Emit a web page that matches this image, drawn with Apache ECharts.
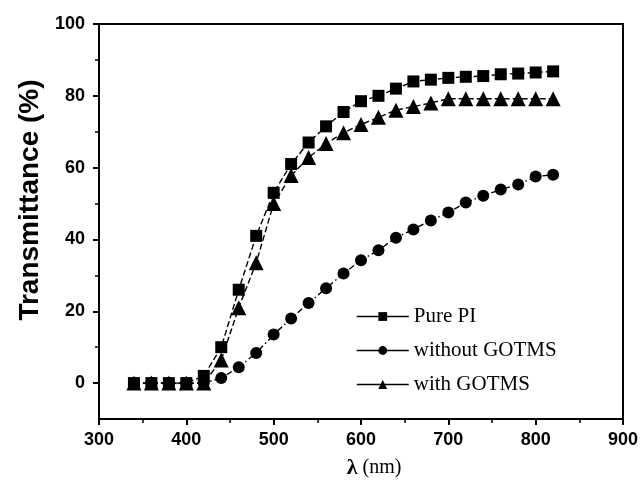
<!DOCTYPE html>
<html>
<head>
<meta charset="utf-8">
<script src="https://cdn.jsdelivr.net/npm/echarts@6/dist/echarts.min.js"></script>
<style>
  html, body { margin: 0; padding: 0; background: #fff; }
  #chart { width: 642px; height: 487px; }
</style>
</head>
<body>
<div id="chart"></div>
<script>
// wavelength (nm)
const wavelengths = [340, 360, 380, 400, 420, 440, 460, 480, 500, 520, 540, 560, 580,
  600, 620, 640, 660, 680, 700, 720, 740, 760, 780, 800, 820]

// transmittance (%)
const purePI = [0, 0, 0, 0, 2, 10, 26, 41, 53, 61, 67, 71.5, 75.5,
  78.5, 80, 82, 84, 84.5, 85, 85.3, 85.5, 86, 86.2, 86.5, 86.8]
const withoutGOTMS = [0, 0, 0, 0, 0, 1.4, 4.4, 8.4, 13.5, 18, 22.3, 26.4, 30.5,
  34.2, 37, 40.5, 42.8, 45.3, 47.5, 50.3, 52.2, 53.9, 55.3, 57.5, 58]
const withGOTMS = [0, 0, 0, 0, 0, 6.4, 21, 33.5, 50, 57.8, 62.8, 66.7, 69.7,
  72, 74, 76, 77, 78, 79.2, 79.2, 79.2, 79.2, 79.2, 79.2, 79.2]

const yMajor = [0, 20, 40, 60, 80, 100]
const yMinor = [10, 30, 50, 70, 90]

const pairs = ys => wavelengths.map((x, i) => [x, ys[i]])

const chart = echarts.init(document.getElementById('chart'))

const tickFont = { color: '#000', fontFamily: 'Liberation Sans', fontWeight: 'bold', fontSize: 18 }

const option = {
  animation: false,
  backgroundColor: '#fff',
  grid: { left: 99, right: 19, top: 24, bottom: 68, show: true, borderColor: '#000', borderWidth: 2 },
  legend: {
    orient: 'vertical',
    left: 356,
    top: 306,
    padding: 0,
    itemWidth: 52,
    itemHeight: 11,
    itemGap: 13,
    lineStyle: { type: 'solid', width: 1.5 },
    textStyle: { color: '#000', fontFamily: 'Liberation Serif', fontSize: 21 },
    data: ['Pure PI', 'without GOTMS', 'with GOTMS']
  },
  xAxis: {
    type: 'value',
    min: 300,
    max: 900,
    interval: 100,
    axisLine: { onZero: false, lineStyle: { color: '#000', width: 2 } },
    axisTick: { inside: false, length: 6, lineStyle: { color: '#000', width: 2 } },
    minorTick: { show: true, splitNumber: 2, length: 4, lineStyle: { color: '#000', width: 1.5 } },
    splitLine: { show: false },
    axisLabel: Object.assign({ margin: 12 }, tickFont)
  },
  yAxis: [
    {
      type: 'value',
      min: -10,
      max: 100,
      axisLine: { onZero: false, lineStyle: { color: '#000', width: 2 } },
      axisTick: { length: 6, customValues: yMajor, lineStyle: { color: '#000', width: 2 } },
      splitLine: { show: false },
      axisLabel: Object.assign({ margin: 14, customValues: yMajor }, tickFont)
    },
    {
      type: 'value',
      min: -10,
      max: 100,
      position: 'left',
      axisLine: { show: false, onZero: false },
      axisTick: { length: 4, customValues: yMinor, lineStyle: { color: '#000', width: 1.5 } },
      splitLine: { show: false },
      axisLabel: { show: false }
    }
  ],
  graphic: [
    {
      type: 'text',
      x: 30,
      y: 200,
      rotation: Math.PI / 2,
      style: {
        text: 'Transmittance (%)',
        fill: '#000',
        font: 'bold 28px "Liberation Sans"',
        align: 'center',
        verticalAlign: 'middle'
      }
    },
    {
      type: 'text',
      x: 374,
      y: 468,
      style: {
        text: '{l|λ} (nm)',
        fill: '#000',
        align: 'center',
        verticalAlign: 'middle',
        fontFamily: 'Liberation Serif',
        fontSize: 20,
        rich: {
          l: { fontFamily: 'Liberation Serif', fontWeight: 'bold', fontSize: 22, fill: '#000' }
        }
      }
    }
  ],
  series: [
    {
      name: 'Pure PI',
      type: 'line',
      data: pairs(purePI),
      symbol: 'rect',
      symbolSize: 12,
      color: '#000',
      itemStyle: { color: '#000' },
      lineStyle: { color: '#000', width: 1.4, type: [6, 3] },
      z: 3
    },
    {
      name: 'without GOTMS',
      type: 'line',
      data: pairs(withoutGOTMS),
      symbol: 'circle',
      symbolSize: 12,
      color: '#000',
      itemStyle: { color: '#000' },
      lineStyle: { color: '#000', width: 1.4, type: [6, 3, 1.5, 3] },
      z: 2
    },
    {
      name: 'with GOTMS',
      type: 'line',
      data: pairs(withGOTMS),
      symbol: 'triangle',
      symbolSize: 15,
      color: '#000',
      itemStyle: { color: '#000' },
      lineStyle: { color: '#000', width: 1.4, type: [6, 3] },
      z: 4
    }
  ]
}

chart.setOption(option)
</script>
</body>
</html>
